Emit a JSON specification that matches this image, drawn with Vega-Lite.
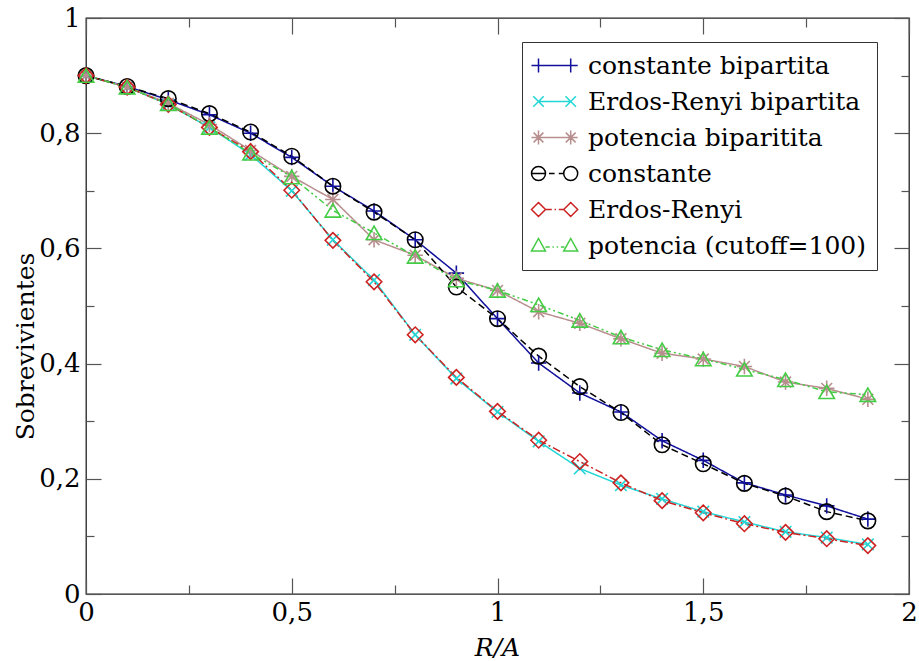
{
  "$schema": "https://vega.github.io/schema/vega-lite/v6.json",
  "autosize": {"type": "none"},
  "padding": {"left": 86, "top": 18, "right": 10, "bottom": 67},
  "width": 823,
  "height": 576,
  "background": "white",
  "config": {
    "font": "DejaVu Serif",
    "view": {"stroke": "#222", "strokeWidth": 1.3},
    "axis": {"grid": false, "domain": false, "labelFont": "DejaVu Serif", "titleFont": "DejaVu Serif", "labelColor": "black", "titleColor": "black", "tickColor": "#555", "tickWidth": 1.2, "titleFontWeight": "normal"},
    "legend": {"labelFont": "DejaVu Serif"}
  },
  "data": {"values": [
    {"s": "constante bipartita", "x": 0, "y": 0.9}, {"s": "constante bipartita", "x": 0.1, "y": 0.881}, {"s": "constante bipartita", "x": 0.2, "y": 0.858}, {"s": "constante bipartita", "x": 0.3, "y": 0.832}, {"s": "constante bipartita", "x": 0.4, "y": 0.8}, {"s": "constante bipartita", "x": 0.5, "y": 0.758}, {"s": "constante bipartita", "x": 0.6, "y": 0.708}, {"s": "constante bipartita", "x": 0.7, "y": 0.665}, {"s": "constante bipartita", "x": 0.8, "y": 0.615}, {"s": "constante bipartita", "x": 0.9, "y": 0.557}, {"s": "constante bipartita", "x": 1.0, "y": 0.478}, {"s": "constante bipartita", "x": 1.1, "y": 0.401}, {"s": "constante bipartita", "x": 1.2, "y": 0.349}, {"s": "constante bipartita", "x": 1.3, "y": 0.316}, {"s": "constante bipartita", "x": 1.4, "y": 0.266}, {"s": "constante bipartita", "x": 1.5, "y": 0.232}, {"s": "constante bipartita", "x": 1.6, "y": 0.193}, {"s": "constante bipartita", "x": 1.7, "y": 0.172}, {"s": "constante bipartita", "x": 1.8, "y": 0.153}, {"s": "constante bipartita", "x": 1.9, "y": 0.13},
    {"s": "Erdos-Renyi bipartita", "x": 0, "y": 0.9}, {"s": "Erdos-Renyi bipartita", "x": 0.1, "y": 0.88}, {"s": "Erdos-Renyi bipartita", "x": 0.2, "y": 0.85}, {"s": "Erdos-Renyi bipartita", "x": 0.3, "y": 0.81}, {"s": "Erdos-Renyi bipartita", "x": 0.4, "y": 0.763}, {"s": "Erdos-Renyi bipartita", "x": 0.5, "y": 0.7}, {"s": "Erdos-Renyi bipartita", "x": 0.6, "y": 0.615}, {"s": "Erdos-Renyi bipartita", "x": 0.7, "y": 0.545}, {"s": "Erdos-Renyi bipartita", "x": 0.8, "y": 0.45}, {"s": "Erdos-Renyi bipartita", "x": 0.9, "y": 0.374}, {"s": "Erdos-Renyi bipartita", "x": 1.0, "y": 0.316}, {"s": "Erdos-Renyi bipartita", "x": 1.1, "y": 0.265}, {"s": "Erdos-Renyi bipartita", "x": 1.2, "y": 0.218}, {"s": "Erdos-Renyi bipartita", "x": 1.3, "y": 0.189}, {"s": "Erdos-Renyi bipartita", "x": 1.4, "y": 0.165}, {"s": "Erdos-Renyi bipartita", "x": 1.5, "y": 0.143}, {"s": "Erdos-Renyi bipartita", "x": 1.6, "y": 0.125}, {"s": "Erdos-Renyi bipartita", "x": 1.7, "y": 0.108}, {"s": "Erdos-Renyi bipartita", "x": 1.8, "y": 0.098}, {"s": "Erdos-Renyi bipartita", "x": 1.9, "y": 0.086},
    {"s": "potencia biparitita", "x": 0, "y": 0.9}, {"s": "potencia biparitita", "x": 0.1, "y": 0.88}, {"s": "potencia biparitita", "x": 0.2, "y": 0.852}, {"s": "potencia biparitita", "x": 0.3, "y": 0.815}, {"s": "potencia biparitita", "x": 0.4, "y": 0.77}, {"s": "potencia biparitita", "x": 0.5, "y": 0.725}, {"s": "potencia biparitita", "x": 0.6, "y": 0.685}, {"s": "potencia biparitita", "x": 0.7, "y": 0.615}, {"s": "potencia biparitita", "x": 0.8, "y": 0.588}, {"s": "potencia biparitita", "x": 0.9, "y": 0.548}, {"s": "potencia biparitita", "x": 1.0, "y": 0.527}, {"s": "potencia biparitita", "x": 1.1, "y": 0.49}, {"s": "potencia biparitita", "x": 1.2, "y": 0.47}, {"s": "potencia biparitita", "x": 1.3, "y": 0.443}, {"s": "potencia biparitita", "x": 1.4, "y": 0.418}, {"s": "potencia biparitita", "x": 1.5, "y": 0.408}, {"s": "potencia biparitita", "x": 1.6, "y": 0.395}, {"s": "potencia biparitita", "x": 1.7, "y": 0.368}, {"s": "potencia biparitita", "x": 1.8, "y": 0.357}, {"s": "potencia biparitita", "x": 1.9, "y": 0.338},
    {"s": "constante", "x": 0, "y": 0.9}, {"s": "constante", "x": 0.1, "y": 0.881}, {"s": "constante", "x": 0.2, "y": 0.86}, {"s": "constante", "x": 0.3, "y": 0.834}, {"s": "constante", "x": 0.4, "y": 0.802}, {"s": "constante", "x": 0.5, "y": 0.76}, {"s": "constante", "x": 0.6, "y": 0.708}, {"s": "constante", "x": 0.7, "y": 0.663}, {"s": "constante", "x": 0.8, "y": 0.615}, {"s": "constante", "x": 0.9, "y": 0.533}, {"s": "constante", "x": 1.0, "y": 0.478}, {"s": "constante", "x": 1.1, "y": 0.413}, {"s": "constante", "x": 1.2, "y": 0.36}, {"s": "constante", "x": 1.3, "y": 0.315}, {"s": "constante", "x": 1.4, "y": 0.259}, {"s": "constante", "x": 1.5, "y": 0.226}, {"s": "constante", "x": 1.6, "y": 0.192}, {"s": "constante", "x": 1.7, "y": 0.17}, {"s": "constante", "x": 1.8, "y": 0.143}, {"s": "constante", "x": 1.9, "y": 0.127},
    {"s": "Erdos-Renyi", "x": 0, "y": 0.9}, {"s": "Erdos-Renyi", "x": 0.1, "y": 0.88}, {"s": "Erdos-Renyi", "x": 0.2, "y": 0.85}, {"s": "Erdos-Renyi", "x": 0.3, "y": 0.81}, {"s": "Erdos-Renyi", "x": 0.4, "y": 0.768}, {"s": "Erdos-Renyi", "x": 0.5, "y": 0.701}, {"s": "Erdos-Renyi", "x": 0.6, "y": 0.614}, {"s": "Erdos-Renyi", "x": 0.7, "y": 0.542}, {"s": "Erdos-Renyi", "x": 0.8, "y": 0.45}, {"s": "Erdos-Renyi", "x": 0.9, "y": 0.376}, {"s": "Erdos-Renyi", "x": 1.0, "y": 0.317}, {"s": "Erdos-Renyi", "x": 1.1, "y": 0.267}, {"s": "Erdos-Renyi", "x": 1.2, "y": 0.23}, {"s": "Erdos-Renyi", "x": 1.3, "y": 0.193}, {"s": "Erdos-Renyi", "x": 1.4, "y": 0.162}, {"s": "Erdos-Renyi", "x": 1.5, "y": 0.141}, {"s": "Erdos-Renyi", "x": 1.6, "y": 0.122}, {"s": "Erdos-Renyi", "x": 1.7, "y": 0.107}, {"s": "Erdos-Renyi", "x": 1.8, "y": 0.096}, {"s": "Erdos-Renyi", "x": 1.9, "y": 0.084},
    {"s": "potencia (cutoff=100)", "x": 0, "y": 0.9}, {"s": "potencia (cutoff=100)", "x": 0.1, "y": 0.88}, {"s": "potencia (cutoff=100)", "x": 0.2, "y": 0.851}, {"s": "potencia (cutoff=100)", "x": 0.3, "y": 0.81}, {"s": "potencia (cutoff=100)", "x": 0.4, "y": 0.765}, {"s": "potencia (cutoff=100)", "x": 0.5, "y": 0.724}, {"s": "potencia (cutoff=100)", "x": 0.6, "y": 0.666}, {"s": "potencia (cutoff=100)", "x": 0.7, "y": 0.627}, {"s": "potencia (cutoff=100)", "x": 0.8, "y": 0.586}, {"s": "potencia (cutoff=100)", "x": 0.9, "y": 0.545}, {"s": "potencia (cutoff=100)", "x": 1.0, "y": 0.527}, {"s": "potencia (cutoff=100)", "x": 1.1, "y": 0.502}, {"s": "potencia (cutoff=100)", "x": 1.2, "y": 0.475}, {"s": "potencia (cutoff=100)", "x": 1.3, "y": 0.446}, {"s": "potencia (cutoff=100)", "x": 1.4, "y": 0.424}, {"s": "potencia (cutoff=100)", "x": 1.5, "y": 0.408}, {"s": "potencia (cutoff=100)", "x": 1.6, "y": 0.39}, {"s": "potencia (cutoff=100)", "x": 1.7, "y": 0.372}, {"s": "potencia (cutoff=100)", "x": 1.8, "y": 0.351}, {"s": "potencia (cutoff=100)", "x": 1.9, "y": 0.346}
  ]},
  "resolve": {"axis": {"x": "independent", "y": "independent"}, "legend": {"color": "independent", "shape": "independent", "strokeDash": "independent"}},
  "layer": [
    {
      "mark": {"type": "line", "strokeWidth": 1.5},
      "encoding": {
        "x": {"field": "x", "type": "quantitative", "scale": {"domain": [0, 2], "nice": false},
          "axis": {"orient": "bottom", "title": "R/A", "titleFontSize": 25, "titleFontStyle": "italic", "titleX": 411, "titleY": 61, "titleBaseline": "alphabetic", "titleAlign": "center",
            "values": [0, 0.25, 0.5, 0.75, 1, 1.25, 1.5, 1.75, 2],
            "tickSize": {"condition": {"test": "datum.value % 0.5 !== 0", "value": -9}, "value": -16},
            "labelPadding": 21, "labelFontSize": 26, "labelFlush": false, "labelOverlap": false, "labelBaseline": "top",
            "labelExpr": "datum.value % 0.5 === 0 ? replace(format(datum.value, '~r'), '.', ',') : ''"}},
        "y": {"field": "y", "type": "quantitative", "scale": {"domain": [0, 1], "nice": false},
          "axis": {"orient": "left", "title": "Sobrevivientes", "titleFontSize": 25, "titleX": -53, "titleY": 328, "titleBaseline": "alphabetic", "titleAlign": "center", "titleAngle": -90,
            "values": [0, 0.1, 0.2, 0.3, 0.4, 0.5, 0.6, 0.7, 0.8, 0.9, 1],
            "tickSize": {"condition": {"test": "round(datum.value * 10) % 2 !== 0", "value": -8}, "value": -15},
            "labelPadding": 21, "labelFontSize": 26, "labelFlush": false, "labelOverlap": false,
            "labelExpr": "round(datum.value * 10) % 2 === 0 ? replace(format(datum.value, '~r'), '.', ',') : ''"}},
        "color": {"field": "s", "type": "nominal", "legend": null,
          "scale": {"domain": ["constante bipartita", "Erdos-Renyi bipartita", "potencia biparitita", "constante", "Erdos-Renyi", "potencia (cutoff=100)"],
            "range": ["#10109c", "#22d6d6", "#b88e8e", "#000000", "#cc2222", "#44cc44"]}},
        "strokeDash": {"field": "s", "type": "nominal", "legend": null,
          "scale": {"domain": ["constante bipartita", "Erdos-Renyi bipartita", "potencia biparitita", "constante", "Erdos-Renyi", "potencia (cutoff=100)"],
            "range": [[1, 0], [1, 0], [1, 0], [7, 4], [8, 3, 2, 3], [6, 3, 2, 3, 2, 3]]}},
        "order": {"field": "x", "type": "quantitative"}
      }
    },
    {
      "mark": {"type": "point", "filled": false, "strokeWidth": 1.6, "size": 240, "opacity": 1},
      "encoding": {
        "x": {"field": "x", "type": "quantitative",
          "axis": {"orient": "top", "title": null, "labels": false,
            "values": [0, 0.25, 0.5, 0.75, 1, 1.25, 1.5, 1.75, 2],
            "tickSize": {"condition": {"test": "datum.value % 0.5 !== 0", "value": -9}, "value": -16}}},
        "y": {"field": "y", "type": "quantitative",
          "axis": {"orient": "right", "title": null, "labels": false,
            "values": [0, 0.1, 0.2, 0.3, 0.4, 0.5, 0.6, 0.7, 0.8, 0.9, 1],
            "tickSize": {"condition": {"test": "round(datum.value * 10) % 2 !== 0", "value": -8}, "value": -15}}},
        "color": {"field": "s", "type": "nominal", "legend": null,
          "scale": {"domain": ["constante bipartita", "Erdos-Renyi bipartita", "potencia biparitita", "constante", "Erdos-Renyi", "potencia (cutoff=100)"],
            "range": ["#10109c", "#22d6d6", "#b88e8e", "#000000", "#cc2222", "#44cc44"]}},
        "shape": {"field": "s", "type": "nominal", "legend": null,
          "scale": {"domain": ["constante bipartita", "Erdos-Renyi bipartita", "potencia biparitita", "constante", "Erdos-Renyi", "potencia (cutoff=100)"],
            "range": ["M-1,0L1,0M0,-1L0,1", "M-0.75,-0.75L0.75,0.75M-0.75,0.75L0.75,-0.75", "M-1,0L1,0M0,-1L0,1M-0.7,-0.7L0.7,0.7M-0.7,0.7L0.7,-0.7", "circle", "diamond", "triangle-up"]}}
      }
    },
    {
      "transform": [{"filter": "false"}],
      "mark": {"type": "point", "filled": false, "strokeWidth": 1.5, "size": 196},
      "encoding": {
        "color": {"field": "s", "type": "nominal",
          "scale": {"domain": ["constante bipartita", "Erdos-Renyi bipartita", "potencia biparitita", "constante", "Erdos-Renyi", "potencia (cutoff=100)"],
            "range": ["#10109c", "#22d6d6", "#b88e8e", "#000000", "#cc2222", "#44cc44"]},
          "legend": {"orient": "none", "legendX": 436, "legendY": 24, "title": null, "padding": 11, "rowPadding": 10,
            "strokeColor": "#333", "fillColor": "white", "labelFontSize": 25, "labelColor": "black", "labelLimit": 500,
            "symbolSize": 196, "symbolStrokeWidth": 1.5, "symbolOpacity": 1, "labelOffset": 37, "symbolOffset": -7,
            "symbolType": {"expr": "datum.value === 'constante bipartita' ? 'M-1,0L1,0M0,-1L0,1M0,0L4.6,0M3.6,0L5.6,0M4.6,-1L4.6,1' : datum.value === 'Erdos-Renyi bipartita' ? 'M-0.75,-0.75L0.75,0.75M-0.75,0.75L0.75,-0.75M0,0L4.6,0M3.85,-0.75L5.35,0.75M3.85,0.75L5.35,-0.75' : datum.value === 'potencia biparitita' ? 'M-1,0L1,0M0,-1L0,1M-0.7,-0.7L0.7,0.7M-0.7,0.7L0.7,-0.7M0,0L4.6,0M3.6,0L5.6,0M4.6,-1L4.6,1M3.9,-0.7L5.3,0.7M3.9,0.7L5.3,-0.7' : datum.value === 'constante' ? 'M1,0A1,1,0,1,1,-1,0A1,1,0,1,1,1,0M-1,0L1,0M1.5,0L2.3,0M2.9,0L3.6,0M5.6,0A1,1,0,1,1,3.6,0A1,1,0,1,1,5.6,0' : datum.value === 'Erdos-Renyi' ? 'M0,-1L1,0L0,1L-1,0ZM1,0L1.9,0M2.3,0L2.5,0M2.9,0L3.6,0M4.6,-1L5.6,0L4.6,1L3.6,0Z' : 'M0,-1L1,0.8L-1,0.8ZM1,0.2L1.6,0.2M2,0.2L2.2,0.2M2.6,0.2L2.8,0.2M3.2,0.2L3.7,0.2M4.6,-1L5.6,0.8L3.6,0.8Z'"}
          }}
      }
    }
  ]
}
